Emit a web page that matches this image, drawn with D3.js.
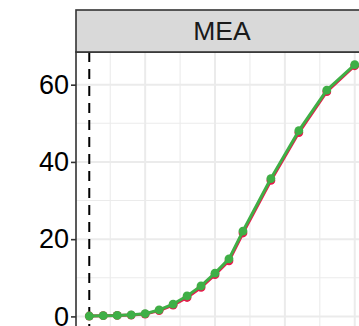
<!DOCTYPE html>
<html>
<head>
<meta charset="utf-8">
<script src="https://cdn.jsdelivr.net/npm/d3@7"></script>
<style>
  html, body { margin: 0; padding: 0; background: #fff; }
  svg { display: block; }
  text { font-family: "Liberation Sans", Arial, Helvetica, sans-serif; }
</style>
</head>
<body>
<svg id="chart" width="359" height="326"></svg>
<script>
// ---- data ----
const panelLabel = "MEA";
const years = [2006, 2007, 2008, 2009, 2010, 2011, 2012, 2013, 2014, 2015, 2016, 2017, 2019, 2021, 2023, 2025];
const seriesRed   = [0.1, 0.2, 0.25, 0.35, 0.6, 1.5, 2.9, 4.9, 7.5, 10.8, 14.4, 21.6, 35.2, 47.6, 58.2, 64.9];
const seriesGreen = [0.1, 0.2, 0.25, 0.4, 0.7, 1.7, 3.2, 5.3, 7.9, 11.2, 14.9, 22.1, 35.7, 48.1, 58.6, 65.2];
const yTicks = [0, 20, 40, 60];
const yMinorTicks = [10, 30, 50, 70];
const xMajorTicks = [2005, 2010, 2015, 2020, 2025];
const xMinorTicks = [2007.5, 2012.5, 2017.5, 2022.5];
const refYear = 2006;

// ---- layout ----
const panel = { left: 76, right: 368, top: 52, bottom: 329 };
const strip = { top: 10, bottom: 52 };

const svg = d3.select("#chart");

const xMin = d3.min(years), xMax = d3.max(years);
const xPad = (xMax - xMin) * 0.05;
const x = d3.scaleLinear().domain([xMin - xPad, xMax + xPad]).range([panel.left, panel.right]);

const yMax = d3.max(seriesGreen.concat(seriesRed));
const yPad = yMax * 0.05;
const y = d3.scaleLinear().domain([-yPad, yMax + yPad]).range([panel.bottom, panel.top]);

svg.append("clipPath").attr("id", "pclip")
  .append("rect").attr("x", panel.left).attr("y", panel.top)
  .attr("width", panel.right - panel.left).attr("height", panel.bottom - panel.top);

const g = svg.append("g").attr("clip-path", "url(#pclip)");

g.append("rect").attr("x", panel.left).attr("y", panel.top)
  .attr("width", panel.right - panel.left).attr("height", panel.bottom - panel.top)
  .attr("fill", "#fff");

// minor grid
g.selectAll(".vminor").data(xMinorTicks).enter().append("line")
  .attr("x1", d => x(d)).attr("x2", d => x(d)).attr("y1", panel.top).attr("y2", panel.bottom)
  .attr("stroke", "#EBEBEB").attr("stroke-width", 1.1);
g.selectAll(".hminor").data(yMinorTicks).enter().append("line")
  .attr("y1", d => y(d)).attr("y2", d => y(d)).attr("x1", panel.left).attr("x2", panel.right)
  .attr("stroke", "#EBEBEB").attr("stroke-width", 1.1);
// major grid
g.selectAll(".vmajor").data(xMajorTicks).enter().append("line")
  .attr("x1", d => x(d)).attr("x2", d => x(d)).attr("y1", panel.top).attr("y2", panel.bottom)
  .attr("stroke", "#EBEBEB").attr("stroke-width", 2);
g.selectAll(".hmajor").data(yTicks).enter().append("line")
  .attr("y1", d => y(d)).attr("y2", d => y(d)).attr("x1", panel.left).attr("x2", panel.right)
  .attr("stroke", "#EBEBEB").attr("stroke-width", 2);

// dashed reference line
g.append("line")
  .attr("x1", x(refYear)).attr("x2", x(refYear)).attr("y1", panel.top).attr("y2", panel.bottom)
  .attr("stroke", "#000").attr("stroke-width", 2).attr("stroke-dasharray", "10,7");

// series
const series = [
  { values: seriesRed, color: "#E8194B" },
  { values: seriesGreen, color: "#3FAF46" }
];
const line = d3.line().x(d => x(d[0])).y(d => y(d[1]));
series.forEach(s => {
  const pts = years.map((yr, i) => [yr, s.values[i]]);
  g.append("path").datum(pts).attr("d", line)
    .attr("fill", "none").attr("stroke", s.color).attr("stroke-width", 3)
    .attr("stroke-linejoin", "round");
  g.selectAll(null).data(pts).enter().append("circle")
    .attr("cx", d => x(d[0])).attr("cy", d => y(d[1])).attr("r", 4.4)
    .attr("fill", s.color);
});

// panel border
svg.append("rect").attr("x", panel.left).attr("y", panel.top)
  .attr("width", panel.right - panel.left).attr("height", panel.bottom - panel.top)
  .attr("fill", "none").attr("stroke", "#333333").attr("stroke-width", 1.6);

// strip
svg.append("rect").attr("x", panel.left).attr("y", strip.top)
  .attr("width", panel.right - panel.left).attr("height", strip.bottom - strip.top)
  .attr("fill", "#D9D9D9").attr("stroke", "#333333").attr("stroke-width", 1.6);
svg.append("text")
  .attr("x", (panel.left + panel.right) / 2).attr("y", (strip.top + strip.bottom) / 2)
  .attr("text-anchor", "middle").attr("dominant-baseline", "central")
  .attr("font-size", 26.5).attr("fill", "#1A1A1A").text(panelLabel);

// y axis
const yAxis = d3.axisLeft(y).tickValues(yTicks).tickSize(5).tickPadding(2).tickFormat(d3.format("d"));
const ya = svg.append("g").attr("transform", `translate(${panel.left},0)`).call(yAxis);
ya.select(".domain").remove();
ya.selectAll(".tick line").attr("stroke", "#333333").attr("stroke-width", 1.6);
ya.selectAll(".tick text").attr("font-size", 27).attr("fill", "#000")
  .attr("font-family", "'Liberation Sans', Arial, sans-serif");
</script>
</body>
</html>
